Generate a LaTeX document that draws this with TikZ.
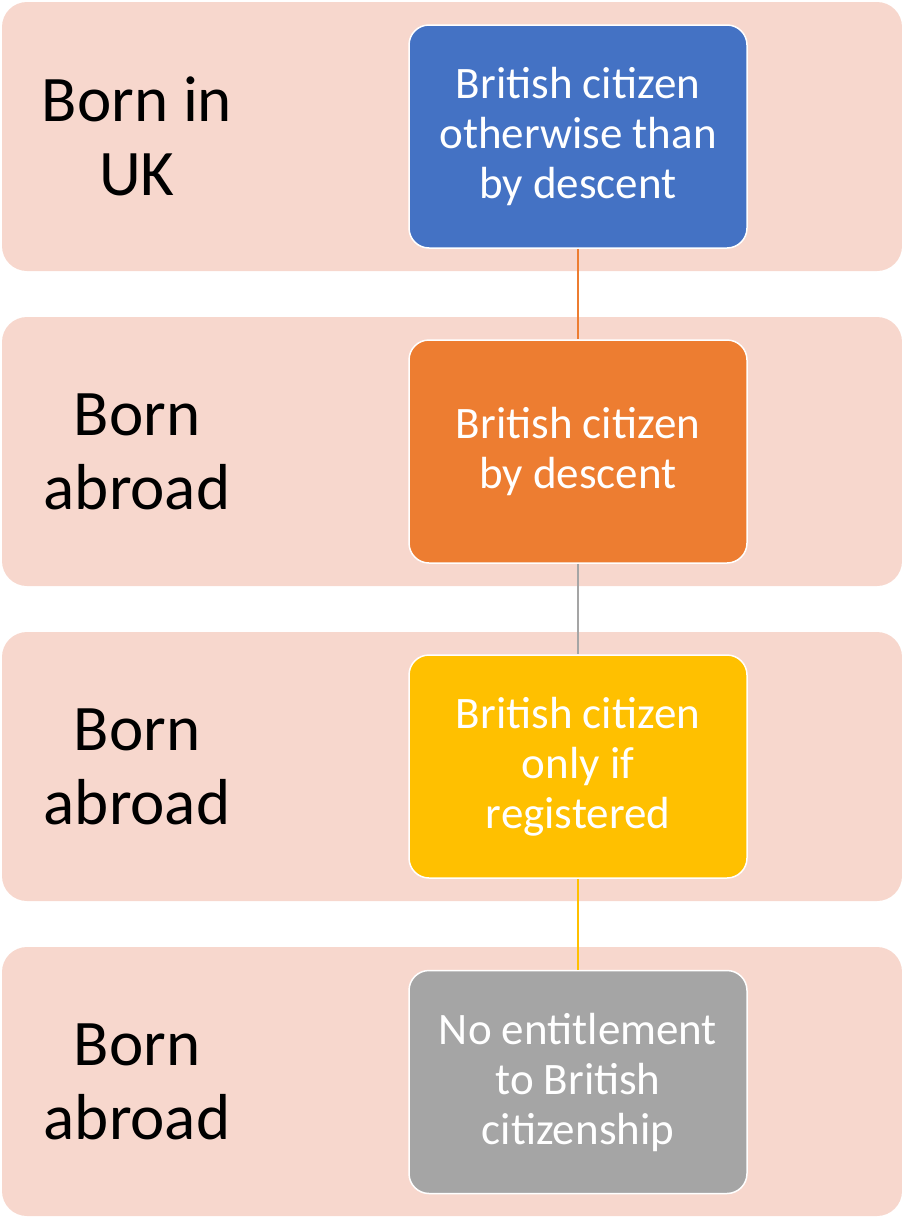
\documentclass[tikz,border=0pt]{standalone}
\usepackage{fontspec}
\setmainfont{Carlito}
\usetikzlibrary{positioning}

\definecolor{bandpink}{HTML}{F7D7CD}
\definecolor{stageblue}{HTML}{4472C4}
\definecolor{stageorange}{HTML}{ED7D31}
\definecolor{stageyellow}{HTML}{FFC000}
\definecolor{stagegray}{HTML}{A5A5A5}

\tikzset{
  band/.style={fill=bandpink, rounded corners=25pt, minimum width=900pt,
    minimum height=269pt, inner sep=0pt},
  stage/.style={draw=white, line width=1.5pt, rounded corners=20pt,
    minimum width=338pt, minimum height=223pt, inner sep=0pt,
    text=white, align=center, font=\fontsize{45}{50}\selectfont},
  bornlabel/.style={align=center, font=\fontsize{65}{74}\selectfont},
  link/.style={line width=2pt}
}

\begin{document}
\begin{tikzpicture}[x=1pt,y=-1pt]

    \useasboundingbox (0,0) rectangle (902,1218);

    %% Background bands
    \node[band] (band1) at (452,136.5) {};
    \node[band] (band2) at (452,451.5) {};
    \node[band] (band3) at (452,766.5) {};
    \node[band] (band4) at (452,1081.5) {};

    % Where the person was born
    \node[bornlabel] (born1) at (137,136.5) {Born in\\UK};
    \node[bornlabel] (born2) at (137,451.5) {Born\\abroad};
    \node[bornlabel] (born3) at (137,766.5) {Born\\abroad};
    \node[bornlabel] (born4) at (137,1081.5) {Born\\abroad};

    %% Status boxes
    \node[stage, fill=stageblue] (bcotd) at (578,136.5) {British citizen\\otherwise than\\by descent};
    \node[stage, fill=stageorange] (bcbd) at (578,451.5) {British citizen\\by descent};
    \node[stage, fill=stageyellow] (bcreg) at (578,766.5) {British citizen\\only if\\registered};
    \node[stage, fill=stagegray] (noent) at (578,1082) {No entitlement\\to British\\citizenship};

    % Links between the boxes
    \draw[link, stageorange] (bcotd.south) -- (bcbd.north);
    \draw[link, stagegray] (bcbd.south) -- (bcreg.north);
    \draw[link, stageyellow] (bcreg.south) -- (noent.north);

\end{tikzpicture}
\end{document}
